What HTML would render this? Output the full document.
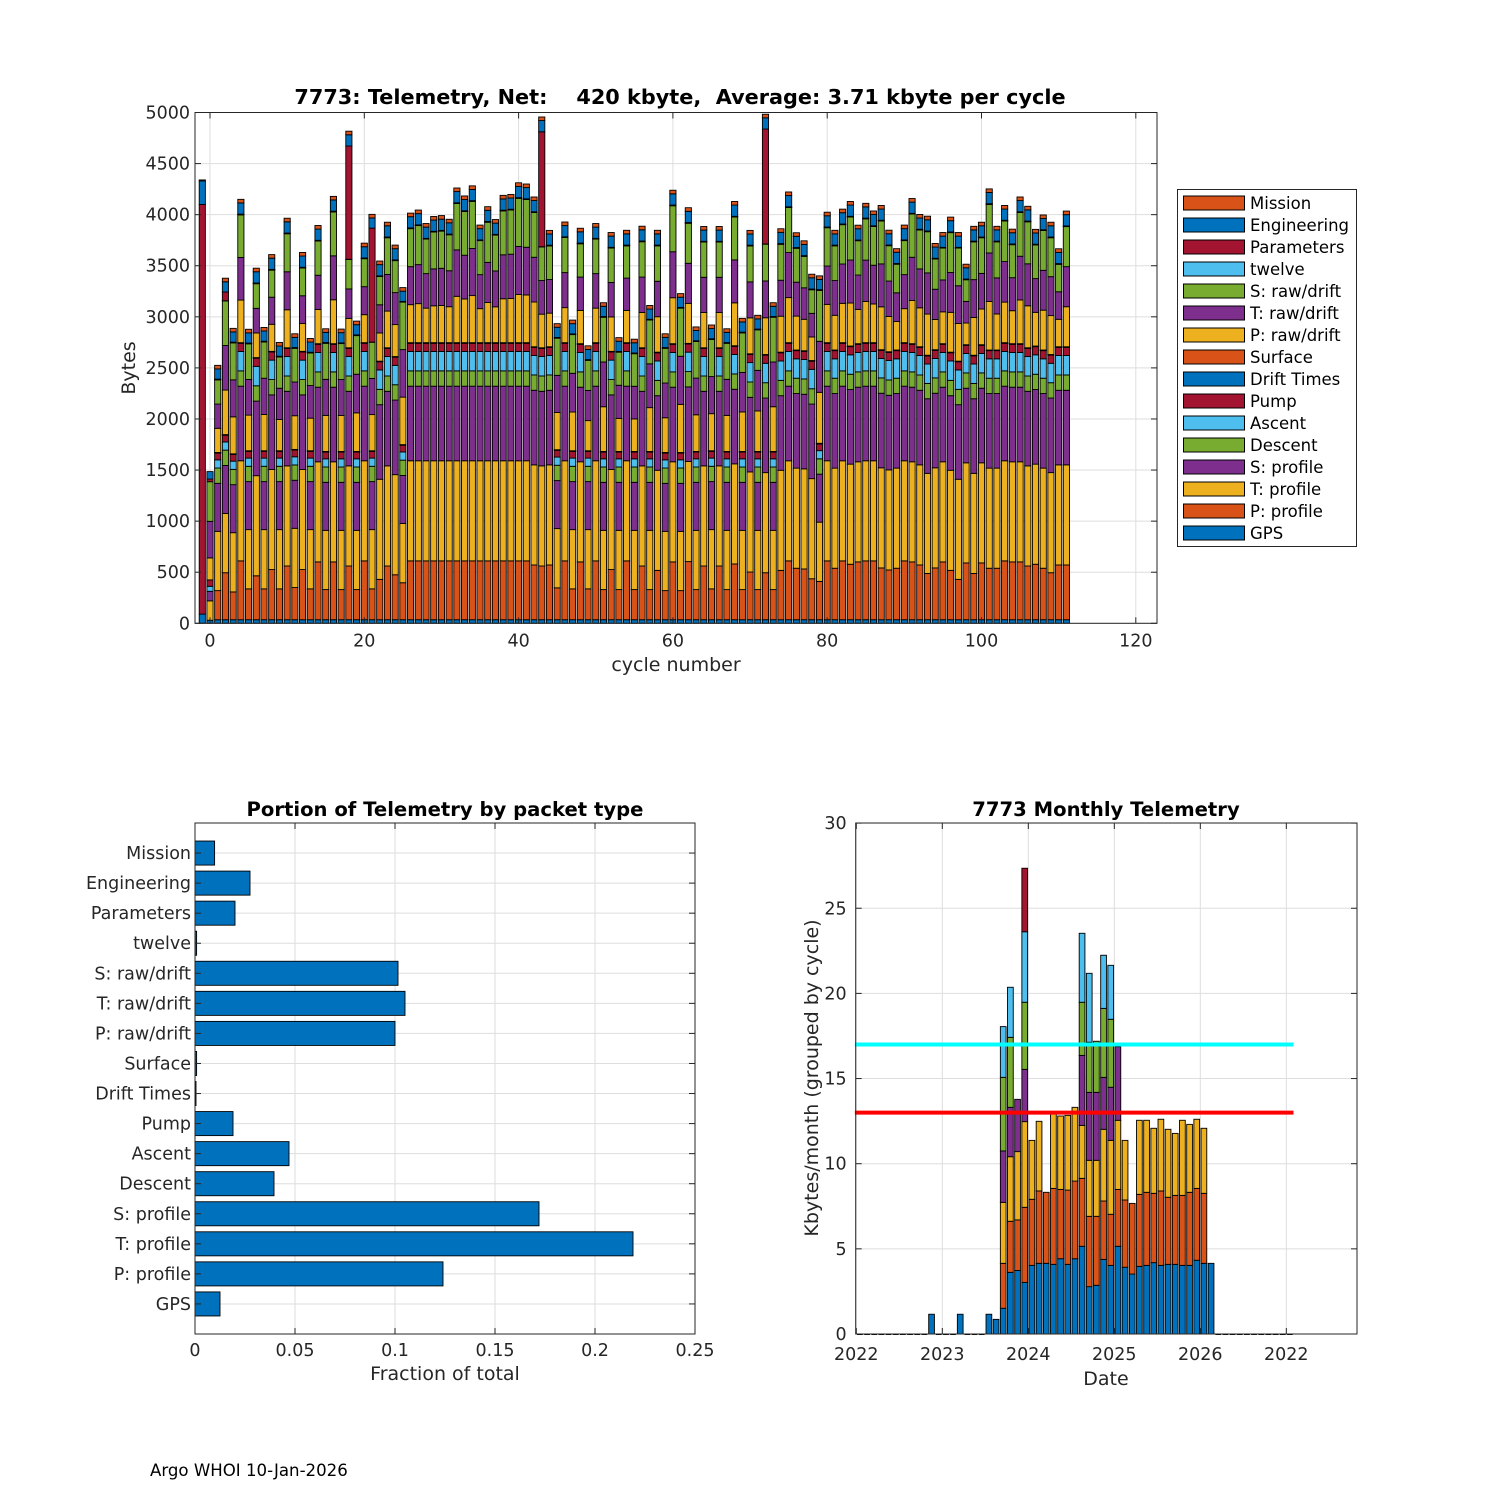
<!DOCTYPE html>
<html><head><meta charset="utf-8"><style>
html,body{margin:0;padding:0;background:#fff;}
svg{display:block;font-family:"DejaVu Sans","Liberation Sans",sans-serif;}
</style></head><body>
<svg id="fig" width="1500" height="1500" viewBox="0 0 1500 1500" xmlns="http://www.w3.org/2000/svg">
<rect width="1500" height="1500" fill="#fff"/>
<g id="top"></g>
<g id="bl"></g>
<g id="br"></g>
<text x="150" y="1476" font-size="16.6" fill="#000">Argo WHOI 10-Jan-2026</text>
</svg>
<script>
// ---------- TOP CHART DATA ----------
const cycles = [-1,0,1,2,3,4,5,6,7,8,9,10,11,12,13,14,15,16,17,18,19,20,21,22,23,24,25,26,27,28,29,30,31,32,33,34,35,36,37,38,39,40,41,42,43,44,45,46,47,48,49,50,51,52,53,54,55,56,57,58,59,60,61,62,63,64,65,66,67,68,69,70,71,72,73,74,75,76,77,78,79,80,81,82,83,84,85,86,87,88,89,90,91,92,93,94,95,96,97,98,99,100,101,102,103,104,105,106,107,108,109,110,111];
const seriesNames = ["GPS","P: profile","T: profile","S: profile","Descent","Ascent","Pump","Drift Times","Surface","P: raw/drift","T: raw/drift","S: raw/drift","twelve","Parameters","Engineering","Mission"];
const gpsV = [90,30,35,35,35,35,35,35,35,35,35,35,35,35,35,35,35,35,35,35,35,35,35,35,35,35,35,35,35,35,35,35,35,35,35,35,35,35,35,35,35,35,35,35,35,35,35,35,35,35,35,35,35,35,35,35,35,35,35,35,35,35,35,35,35,35,35,35,35,35,35,35,35,35,35,35,35,35,35,35,35,35,35,35,35,35,35,35,35,35,35,35,35,35,35,35,35,35,35,35,35,35,35,35,35,35,35,35,35,35,35,35,35];
const pProf = [0,0,285,460,272,576,302,430,302,491,302,526,315,491,302,566,295,566,295,526,295,576,302,395,526,440,362,576,576,576,576,576,576,576,576,576,576,576,576,576,576,576,576,536,526,536,312,576,302,566,302,576,295,491,295,576,295,526,295,483,285,566,285,569,295,526,302,526,295,546,295,467,295,460,295,483,576,504,497,401,375,576,504,576,543,566,576,576,507,487,504,576,566,536,453,507,566,483,395,556,453,556,504,504,576,566,566,526,543,504,460,536,536];
const tProf = [0,190,580,580,580,980,580,980,580,980,580,980,580,980,580,980,580,980,580,980,580,980,580,980,980,980,580,980,980,980,980,980,980,980,980,980,980,980,980,980,980,980,980,980,980,980,580,980,580,980,580,980,580,980,580,980,580,980,580,980,580,980,580,980,580,980,580,980,580,980,580,980,580,980,580,980,980,980,980,980,580,980,980,980,980,980,980,980,980,980,980,980,980,980,980,980,980,980,980,980,980,980,980,980,980,980,980,980,980,980,980,980,980];
const sProf = [0,93,470,470,470,730,470,730,470,730,470,730,470,730,470,730,470,730,470,730,470,730,470,730,730,730,470,730,730,730,730,730,730,730,730,730,730,730,730,730,730,730,730,730,730,730,470,730,470,730,470,730,470,730,470,730,470,730,470,730,470,730,470,730,470,730,470,730,470,730,470,730,470,730,470,730,730,730,730,730,470,730,730,730,730,730,730,730,730,730,730,730,730,730,730,730,730,730,730,730,730,730,730,730,730,730,730,730,730,730,730,730,730];
const descentV = [0,0,150,150,150,150,150,150,150,150,150,150,150,150,150,150,150,150,150,150,150,150,150,150,150,150,150,150,150,150,150,150,150,150,150,150,150,150,150,150,150,150,150,150,150,150,150,150,150,150,150,150,150,150,150,150,150,150,150,150,150,150,150,150,150,150,150,150,150,150,150,150,150,150,150,150,150,150,150,150,150,150,150,150,150,150,150,150,150,150,150,150,150,150,150,150,150,150,150,150,150,150,150,150,150,150,150,150,150,150,150,150,150];
const ascentV = [0,49,80,80,80,190,80,190,80,190,80,190,80,190,80,190,80,190,80,190,80,190,80,190,190,190,80,190,190,190,190,190,190,190,190,190,190,190,190,190,190,190,190,190,190,190,80,190,80,190,80,190,80,190,80,190,80,190,80,190,80,190,80,190,80,190,80,190,80,190,80,190,80,190,80,190,190,190,190,190,80,190,190,190,190,190,190,190,190,190,190,190,190,190,190,190,190,190,190,190,190,190,190,190,190,190,190,190,190,190,190,190,190];
const pumpV = [0,63,66,66,66,80,66,80,66,80,66,80,66,80,66,80,66,80,66,80,66,80,66,80,80,80,66,80,80,80,80,80,80,80,80,80,80,80,80,80,80,80,80,80,80,80,66,80,66,80,66,80,66,80,66,80,66,80,66,80,66,80,66,80,66,80,66,80,66,80,66,80,66,80,66,80,80,80,80,80,66,80,80,80,80,80,80,80,80,80,80,80,80,80,80,80,80,80,80,80,80,80,80,80,80,80,80,80,80,80,80,80,80];
const driftV = [0,0,3,3,3,3,3,3,3,3,3,3,3,3,3,3,3,3,3,3,3,3,3,3,3,3,3,3,3,3,3,3,3,3,3,3,3,3,3,3,3,3,3,3,3,3,3,3,3,3,3,3,3,3,3,3,3,3,3,3,3,3,3,3,3,3,3,3,3,3,3,3,3,3,3,3,3,3,3,3,3,3,3,3,3,3,3,3,3,3,3,3,3,3,3,3,3,3,3,3,3,3,3,3,3,3,3,3,3,3,3,3,3];
const surfaceV = [0,0,3,3,3,3,3,3,3,3,3,3,3,3,3,3,3,3,3,3,3,3,3,3,3,3,3,3,3,3,3,3,3,3,3,3,3,3,3,3,3,3,3,3,3,3,3,3,3,3,3,3,3,3,3,3,3,3,3,3,3,3,3,3,3,3,3,3,3,3,3,3,3,3,3,3,3,3,3,3,3,3,3,3,3,3,3,3,3,3,3,3,3,3,3,3,3,3,3,3,3,3,3,3,3,3,3,3,3,3,3,3,3];
const pRaw = [0,215,237,436,362,417,349,241,355,265,306,372,330,272,319,335,353,430,352,288,378,274,354,276,359,313,465,372,382,338,361,364,352,454,428,461,333,393,351,430,433,471,467,438,329,329,364,343,379,326,295,338,438,337,324,316,319,346,429,347,340,450,471,392,359,345,363,345,353,420,387,352,397,360,438,352,441,332,308,231,499,375,340,385,421,336,404,379,420,346,280,333,423,381,403,296,312,390,369,212,370,349,475,353,397,323,428,411,330,390,381,269,392];
const tRaw = [0,358,237,436,362,417,349,241,355,265,306,372,330,272,319,335,353,430,352,288,378,274,354,276,359,313,465,372,382,338,361,364,352,454,428,461,333,393,351,430,433,471,467,438,329,329,364,343,379,326,295,338,438,337,324,316,319,346,429,347,340,450,471,392,359,345,363,345,353,420,387,352,397,360,438,352,441,332,308,231,499,375,340,385,421,336,404,379,420,346,280,333,423,381,403,296,312,390,369,212,370,349,475,353,397,323,428,411,330,390,381,269,392];
const sRaw = [0,388,237,436,362,417,349,241,355,265,306,372,330,272,319,335,353,430,352,288,378,274,354,276,359,313,465,372,382,338,361,364,352,454,428,461,333,393,351,430,433,471,467,438,329,329,364,343,379,326,295,338,438,337,324,316,319,346,429,347,340,450,471,392,359,345,363,345,353,420,387,352,397,360,438,352,441,332,308,231,499,375,340,385,421,336,404,379,420,346,280,333,423,381,403,296,312,390,369,212,370,349,475,353,397,323,428,411,330,390,381,269,392];
const twelveV = [0,0,2,2,2,2,2,2,2,2,2,2,2,2,2,2,2,2,2,2,2,2,2,2,2,2,2,2,2,2,2,2,2,2,2,2,2,2,2,2,2,2,2,2,2,2,2,2,2,2,2,2,2,2,2,2,2,2,2,2,2,2,2,2,2,2,2,2,2,2,2,2,2,2,2,2,2,2,2,2,2,2,2,2,2,2,2,2,2,2,2,2,2,2,2,2,2,2,2,2,2,2,2,2,2,2,2,2,2,2,2,2,2];
const paramsV = [4010,26,5,86,5,5,5,5,5,5,5,5,5,5,5,5,5,5,5,1109,5,5,1115,5,5,5,5,5,5,5,5,5,5,5,5,5,5,5,5,5,5,5,5,5,1125,5,5,5,5,5,5,5,5,5,5,5,5,5,5,5,5,5,5,5,5,5,5,5,5,5,5,5,5,1125,5,5,5,5,5,5,5,5,5,5,5,5,5,5,5,5,5,5,5,5,5,5,5,5,5,5,5,5,5,5,5,5,5,5,5,5,5,5,5];
const engV = [230,73,100,100,100,110,100,110,100,110,100,110,100,110,100,110,100,110,100,110,100,110,100,110,110,110,100,110,110,110,110,110,110,110,110,110,110,110,110,110,110,110,110,110,110,110,100,110,100,110,100,110,100,110,100,110,100,110,100,110,100,110,100,110,100,110,100,110,100,110,100,110,100,110,100,110,110,110,110,110,100,110,110,110,110,110,110,110,110,110,110,110,110,110,110,110,110,110,110,110,110,110,110,110,110,110,110,110,110,110,110,110,110];
const missionV = [10,0,35,35,35,35,35,35,35,35,35,35,35,35,35,35,35,35,35,35,35,35,35,35,35,35,35,35,35,35,35,35,35,35,35,35,35,35,35,35,35,35,35,35,35,35,35,35,35,35,35,35,35,35,35,35,35,35,35,35,35,35,35,35,35,35,35,35,35,35,35,35,35,35,35,35,35,35,35,35,35,35,35,35,35,35,35,35,35,35,35,35,35,35,35,35,35,35,35,35,35,35,35,35,35,35,35,35,35,35,35,35,35];
const yTicksTop = [0,500,1000,1500,2000,2500,3000,3500,4000,4500,5000];
const xTicksTop = [0,20,40,60,80,100,120];

// ---------- BOTTOM-LEFT DATA ----------
const packetCats = ["GPS","P: profile","T: profile","S: profile","Descent","Ascent","Pump","Drift Times","Surface","P: raw/drift","T: raw/drift","S: raw/drift","twelve","Parameters","Engineering","Mission"];
const packetFrac = [0.0125,0.124,0.219,0.172,0.0395,0.047,0.019,0.0005,0.0008,0.1,0.105,0.1015,0.0008,0.02,0.0275,0.0098];
const xTicksBL = [0,0.05,0.1,0.15,0.2,0.25];
const xTickLabelsBL = ["0","0.05","0.1","0.15","0.2","0.25"];

// ---------- BOTTOM-RIGHT DATA (month index 0 = Jan 2022) ----------
const months = [0,1,2,3,4,5,6,7,8,9,10,11,12,13,14,15,16,17,18,19,20,21,22,23,24,25,26,27,28,29,30,31,32,33,34,35,36,37,38,39,40,41,42,43,44,45,46,47,48,49,50,51,52,53,54,55,56,57,58,59,60];
const mBlue = [0,0,0,0,0,0,0,0,0,0,1.16,0,0,0,1.16,0,0,0,1.16,0.86,1.51,3.62,3.73,3.03,4.03,4.15,4.15,4.09,4.42,4.09,4.42,5.15,2.78,2.86,4.38,4.03,5.15,3.92,3.52,3.97,4.03,4.19,4.03,4.09,4.09,4.03,4.03,4.33,4.15,4.15,0,0,0,0,0,0,0,0,0,0,0];
const mOrange = [0,0,0,0,0,0,0,0,0,0,0,0,0,0,0,0,0,0,0,0,2.64,3.00,2.97,4.41,3.88,4.25,4.17,4.46,4.07,4.36,4.56,3.99,4.13,4.05,3.43,3.00,3.34,3.95,4.15,4.23,4.29,4.07,4.37,3.94,4.05,4.11,4.29,4.22,4.11,0,0,0,0,0,0,0,0,0,0,0,0];
const mYellow = [0,0,0,0,0,0,0,0,0,0,0,0,0,0,0,0,0,0,0,0,3.58,3.79,4.01,5.03,3.46,4.09,0,4.41,4.31,4.39,4.33,3.11,3.29,3.29,4.21,4.34,4.06,3.50,0,4.35,4.23,3.82,4.21,3.99,3.64,4.41,3.99,4.06,3.82,0,0,0,0,0,0,0,0,0,0,0,0];
const mPurple = [0,0,0,0,0,0,0,0,0,0,0,0,0,0,0,0,0,0,0,0,3.02,2.90,3.07,3.07,0,0,0,0,0,0,0,4.11,3.99,3.99,3.05,3.12,4.32,0,0,0,0,0,0,0,0,0,0,0,0,0,0,0,0,0,0,0,0,0,0,0,0];
const mGreen = [0,0,0,0,0,0,0,0,0,0,0,0,0,0,0,0,0,0,0,0,4.32,4.11,0,3.94,0,0,0,0,0,0,0,3.12,2.94,3.00,4.05,3.99,0,0,0,0,0,0,0,0,0,0,0,0,0,0,0,0,0,0,0,0,0,0,0,0,0];
const mLightBlue = [0,0,0,0,0,0,0,0,0,0,0,0,0,0,0,0,0,0,0,0,2.98,2.94,0,4.14,0,0,0,0,0,0,0,4.05,4.05,0,3.12,3.17,0,0,0,0,0,0,0,0,0,0,0,0,0,0,0,0,0,0,0,0,0,0,0,0,0];
const mRed = [0,0,0,0,0,0,0,0,0,0,0,0,0,0,0,0,0,0,0,0,0,0,0,3.73,0,0,0,0,0,0,0,0,0,0,0,0,0,0,0,0,0,0,0,0,0,0,0,0,0,0,0,0,0,0,0,0,0,0,0,0,0];
const refLevels = [17,13];
const refLineRange = [-0.2,61];
const yTicksBR = [0,5,10,15,20,25,30];
const xTicksBRMonths = [0,12,24,36,48,60];
const xTickLabelsBR = ["2022","2023","2024","2025","2026","2022"];

// ---------- helpers ----------
const NS = "http://www.w3.org/2000/svg";
function mk(parent, tag, attrs, txt){
  const e = document.createElementNS(NS, tag);
  for (const k in attrs) e.setAttribute(k, attrs[k]);
  if (txt !== undefined) e.textContent = txt;
  parent.appendChild(e);
  return e;
}
const C = {blue:"#0072BD",orange:"#D95319",yellow:"#EDB120",purple:"#7E2F8E",green:"#77AC30",lblue:"#4DBEEE",red:"#A2142F"};
const AX = "#262626", GRID = "#dedede";

// ---------- TOP CHART ----------
(function(){
  const g = document.getElementById('top');
  const L=195, R=1157, T=112.5, B=623.3;
  const xT = c => 210 + c*7.715;
  const yT = v => B - v*0.10216;
  mk(g,'rect',{x:L,y:T,width:R-L,height:B-T,fill:'#fff'});
  yTicksTop.forEach(v=>{
    const l=mk(g,'line',{x1:L,x2:R,y1:yT(v),y2:yT(v),stroke:GRID,'stroke-width':1});
    
    
  });
  xTicksTop.forEach(v=>{
    const l=mk(g,'line',{x1:xT(v),x2:xT(v),y1:T,y2:B,stroke:GRID,'stroke-width':1});
    
    
  });
  const series = [gpsV,pProf,tProf,sProf,descentV,ascentV,pumpV,driftV,surfaceV,pRaw,tRaw,sRaw,twelveV,paramsV,engV,missionV];
  const colors = [C.blue,C.orange,C.yellow,C.purple,C.green,C.lblue,C.red,C.blue,C.orange,C.yellow,C.purple,C.green,C.lblue,C.red,C.blue,C.orange];
  const bw = 0.8*7.715;
  cycles.forEach((c,i)=>{
    const bg = mk(g,'g',{});
    
    
    let cum=0;
    series.forEach((s,k)=>{
      const v=s[i]; if(!(v>0)) return;
      const r=mk(bg,'rect',{x:xT(c)-bw/2,y:yT(cum+v),width:bw,height:yT(cum)-yT(cum+v),fill:colors[k],stroke:'#000','stroke-width':0.9});
      
      
      cum+=v;
    });
  });
  mk(g,'rect',{x:L,y:T,width:R-L,height:B-T,fill:'none',stroke:AX,'stroke-width':1});
  yTicksTop.forEach(v=>{
    mk(g,'line',{x1:L,x2:L+6,y1:yT(v),y2:yT(v),stroke:AX});
    mk(g,'line',{x1:R-6,x2:R,y1:yT(v),y2:yT(v),stroke:AX});
    const t=mk(g,'text',{x:L-5,y:yT(v)+6,'font-size':17.5,'text-anchor':'end',fill:AX},String(v));
    
    
  });
  xTicksTop.forEach(v=>{
    mk(g,'line',{x1:xT(v),x2:xT(v),y1:B,y2:B-6,stroke:AX});
    mk(g,'line',{x1:xT(v),x2:xT(v),y1:T,y2:T+6,stroke:AX});
    const t=mk(g,'text',{x:xT(v),y:B+23,'font-size':17.5,'text-anchor':'middle',fill:AX},String(v));
    
    
  });
  const tt=mk(g,'text',{x:680,y:104,'font-size':20.8,'font-weight':'bold','text-anchor':'middle',fill:'#000','xml:space':'preserve'},'7773: Telemetry, Net:    420 kbyte,  Average: 3.71 kbyte per cycle');
  
  
  tt.style.whiteSpace='pre';
  const xl=mk(g,'text',{x:676,y:671,'font-size':19,'text-anchor':'middle',fill:AX},'cycle number');
  
  
  const yl=mk(g,'text',{x:0,y:0,'font-size':19,'text-anchor':'middle',fill:AX,transform:'translate(135,368) rotate(-90)'},'Bytes');
  
  
  const lg=mk(g,'g',{});
  
  
  mk(lg,'rect',{x:1177.5,y:189.5,width:179,height:357,fill:'#fff',stroke:AX,'stroke-width':1});
  for(let k=15;k>=0;k--){
    const row = 15-k;
    const y = 203 + row*22;
    const e=mk(lg,'g',{});
    
    
    mk(e,'rect',{x:1183.5,y:y-7,width:61,height:14,fill:colors[k],stroke:'#000','stroke-width':1});
    mk(e,'text',{x:1250,y:y+6,'font-size':16.5,fill:'#000'},seriesNames[k]);
  }
})();

// ---------- BOTTOM-LEFT CHART ----------
(function(){
  const g=document.getElementById('bl');
  const L=195,R=695,T=823,B=1334;
  const step=(B-T)/17;
  const xL=v=>L+v*2000;
  const yL=k=>B-k*step;
  xTicksBL.forEach(v=>{
    const l=mk(g,'line',{x1:xL(v),x2:xL(v),y1:T,y2:B,stroke:GRID});
    
    
  });
  packetCats.forEach((n,i)=>{
    const l=mk(g,'line',{x1:L,x2:R,y1:yL(i+1),y2:yL(i+1),stroke:GRID});
    
    
  });
  const bh=0.8*step;
  packetCats.forEach((n,i)=>{
    const v=packetFrac[i];
    const r=mk(g,'rect',{x:xL(0),y:yL(i+1)-bh/2,width:xL(v)-xL(0),height:bh,fill:C.blue,stroke:'#000','stroke-width':0.9});
    
    
    const t=mk(g,'text',{x:L-4,y:yL(i+1)+6,'font-size':17.5,'text-anchor':'end',fill:AX},n);
    
    
    mk(g,'line',{x1:L,x2:L+6,y1:yL(i+1),y2:yL(i+1),stroke:AX});
    mk(g,'line',{x1:R-6,x2:R,y1:yL(i+1),y2:yL(i+1),stroke:AX});
  });
  mk(g,'rect',{x:L,y:T,width:R-L,height:B-T,fill:'none',stroke:AX});
  xTicksBL.forEach((v,i)=>{
    mk(g,'line',{x1:xL(v),x2:xL(v),y1:B,y2:B-6,stroke:AX});
    mk(g,'line',{x1:xL(v),x2:xL(v),y1:T,y2:T+6,stroke:AX});
    const t=mk(g,'text',{x:xL(v),y:B+22,'font-size':17.5,'text-anchor':'middle',fill:AX},xTickLabelsBL[i]);
    
    
  });
  const tt=mk(g,'text',{x:445,y:816,'font-size':19.6,'font-weight':'bold','text-anchor':'middle',fill:'#000'},'Portion of Telemetry by packet type');
  
  
  const xl=mk(g,'text',{x:445,y:1380,'font-size':19,'text-anchor':'middle',fill:AX},'Fraction of total');
  
  
})();

// ---------- BOTTOM-RIGHT CHART ----------
(function(){
  const g=document.getElementById('br');
  const L=855.7,R=1357,T=823,B=1334;
  const xR=m=>856.3+(m+0.5)*7.167;
  const xG=m=>856.3+m*7.167;
  const yR=v=>B-v*17.03;
  yTicksBR.forEach(v=>{
    const l=mk(g,'line',{x1:L,x2:R,y1:yR(v),y2:yR(v),stroke:GRID});
    
    
  });
  xTicksBRMonths.forEach(m=>{
    const l=mk(g,'line',{x1:xG(m),x2:xG(m),y1:T,y2:B,stroke:GRID});
    
    
  });
  const stacks=[mBlue,mOrange,mYellow,mPurple,mGreen,mLightBlue,mRed];
  const cols=[C.blue,C.orange,C.yellow,C.purple,C.green,C.lblue,C.red];
  const bw=0.8*7.167;
  months.forEach((m,i)=>{
    const bg=mk(g,'g',{});
    
    
    let cum=0, any=false;
    stacks.forEach((s,k)=>{
      const v=s[i]; if(!(v>0)) return; any=true;
      mk(bg,'rect',{x:xR(m)-bw/2,y:yR(cum+v),width:bw,height:yR(cum)-yR(cum+v),fill:cols[k],stroke:'#000','stroke-width':0.9});
      cum+=v;
    });
    if(!any) mk(bg,'line',{x1:xR(m)-bw/2,x2:xR(m)+bw/2,y1:yR(0)+0.5,y2:yR(0)+0.5,stroke:'#000','stroke-width':1});
  });
  const refCols=['#00FFFF','#FF0000'];
  refLevels.forEach((v,i)=>{
    const l=mk(g,'line',{x1:xG(refLineRange[0]),x2:xG(refLineRange[1]),y1:yR(v),y2:yR(v),stroke:refCols[i],'stroke-width':4});
    
    
  });
  mk(g,'rect',{x:L,y:T,width:R-L,height:B-T,fill:'none',stroke:AX});
  yTicksBR.forEach(v=>{
    mk(g,'line',{x1:L,x2:L+6,y1:yR(v),y2:yR(v),stroke:AX});
    mk(g,'line',{x1:R-6,x2:R,y1:yR(v),y2:yR(v),stroke:AX});
    const t=mk(g,'text',{x:L-9,y:yR(v)+6,'font-size':17.5,'text-anchor':'end',fill:AX},String(v));
    
    
  });
  xTicksBRMonths.forEach((m,i)=>{
    mk(g,'line',{x1:xG(m),x2:xG(m),y1:B,y2:B-6,stroke:AX});
    mk(g,'line',{x1:xG(m),x2:xG(m),y1:T,y2:T+6,stroke:AX});
    const t=mk(g,'text',{x:xG(m),y:B+26,'font-size':17.5,'text-anchor':'middle',fill:AX},xTickLabelsBR[i]);
    
    
  });
  const tt=mk(g,'text',{x:1106,y:816,'font-size':19.6,'font-weight':'bold','text-anchor':'middle',fill:'#000'},'7773 Monthly Telemetry');
  
  
  const xl=mk(g,'text',{x:1106,y:1385,'font-size':19,'text-anchor':'middle',fill:AX},'Date');
  
  
  const yl=mk(g,'text',{x:0,y:0,'font-size':19,'text-anchor':'middle',fill:AX,transform:'translate(818,1078) rotate(-90)'},'Kbytes/month (grouped by cycle)');
  
  
})();
</script>
</body></html>
